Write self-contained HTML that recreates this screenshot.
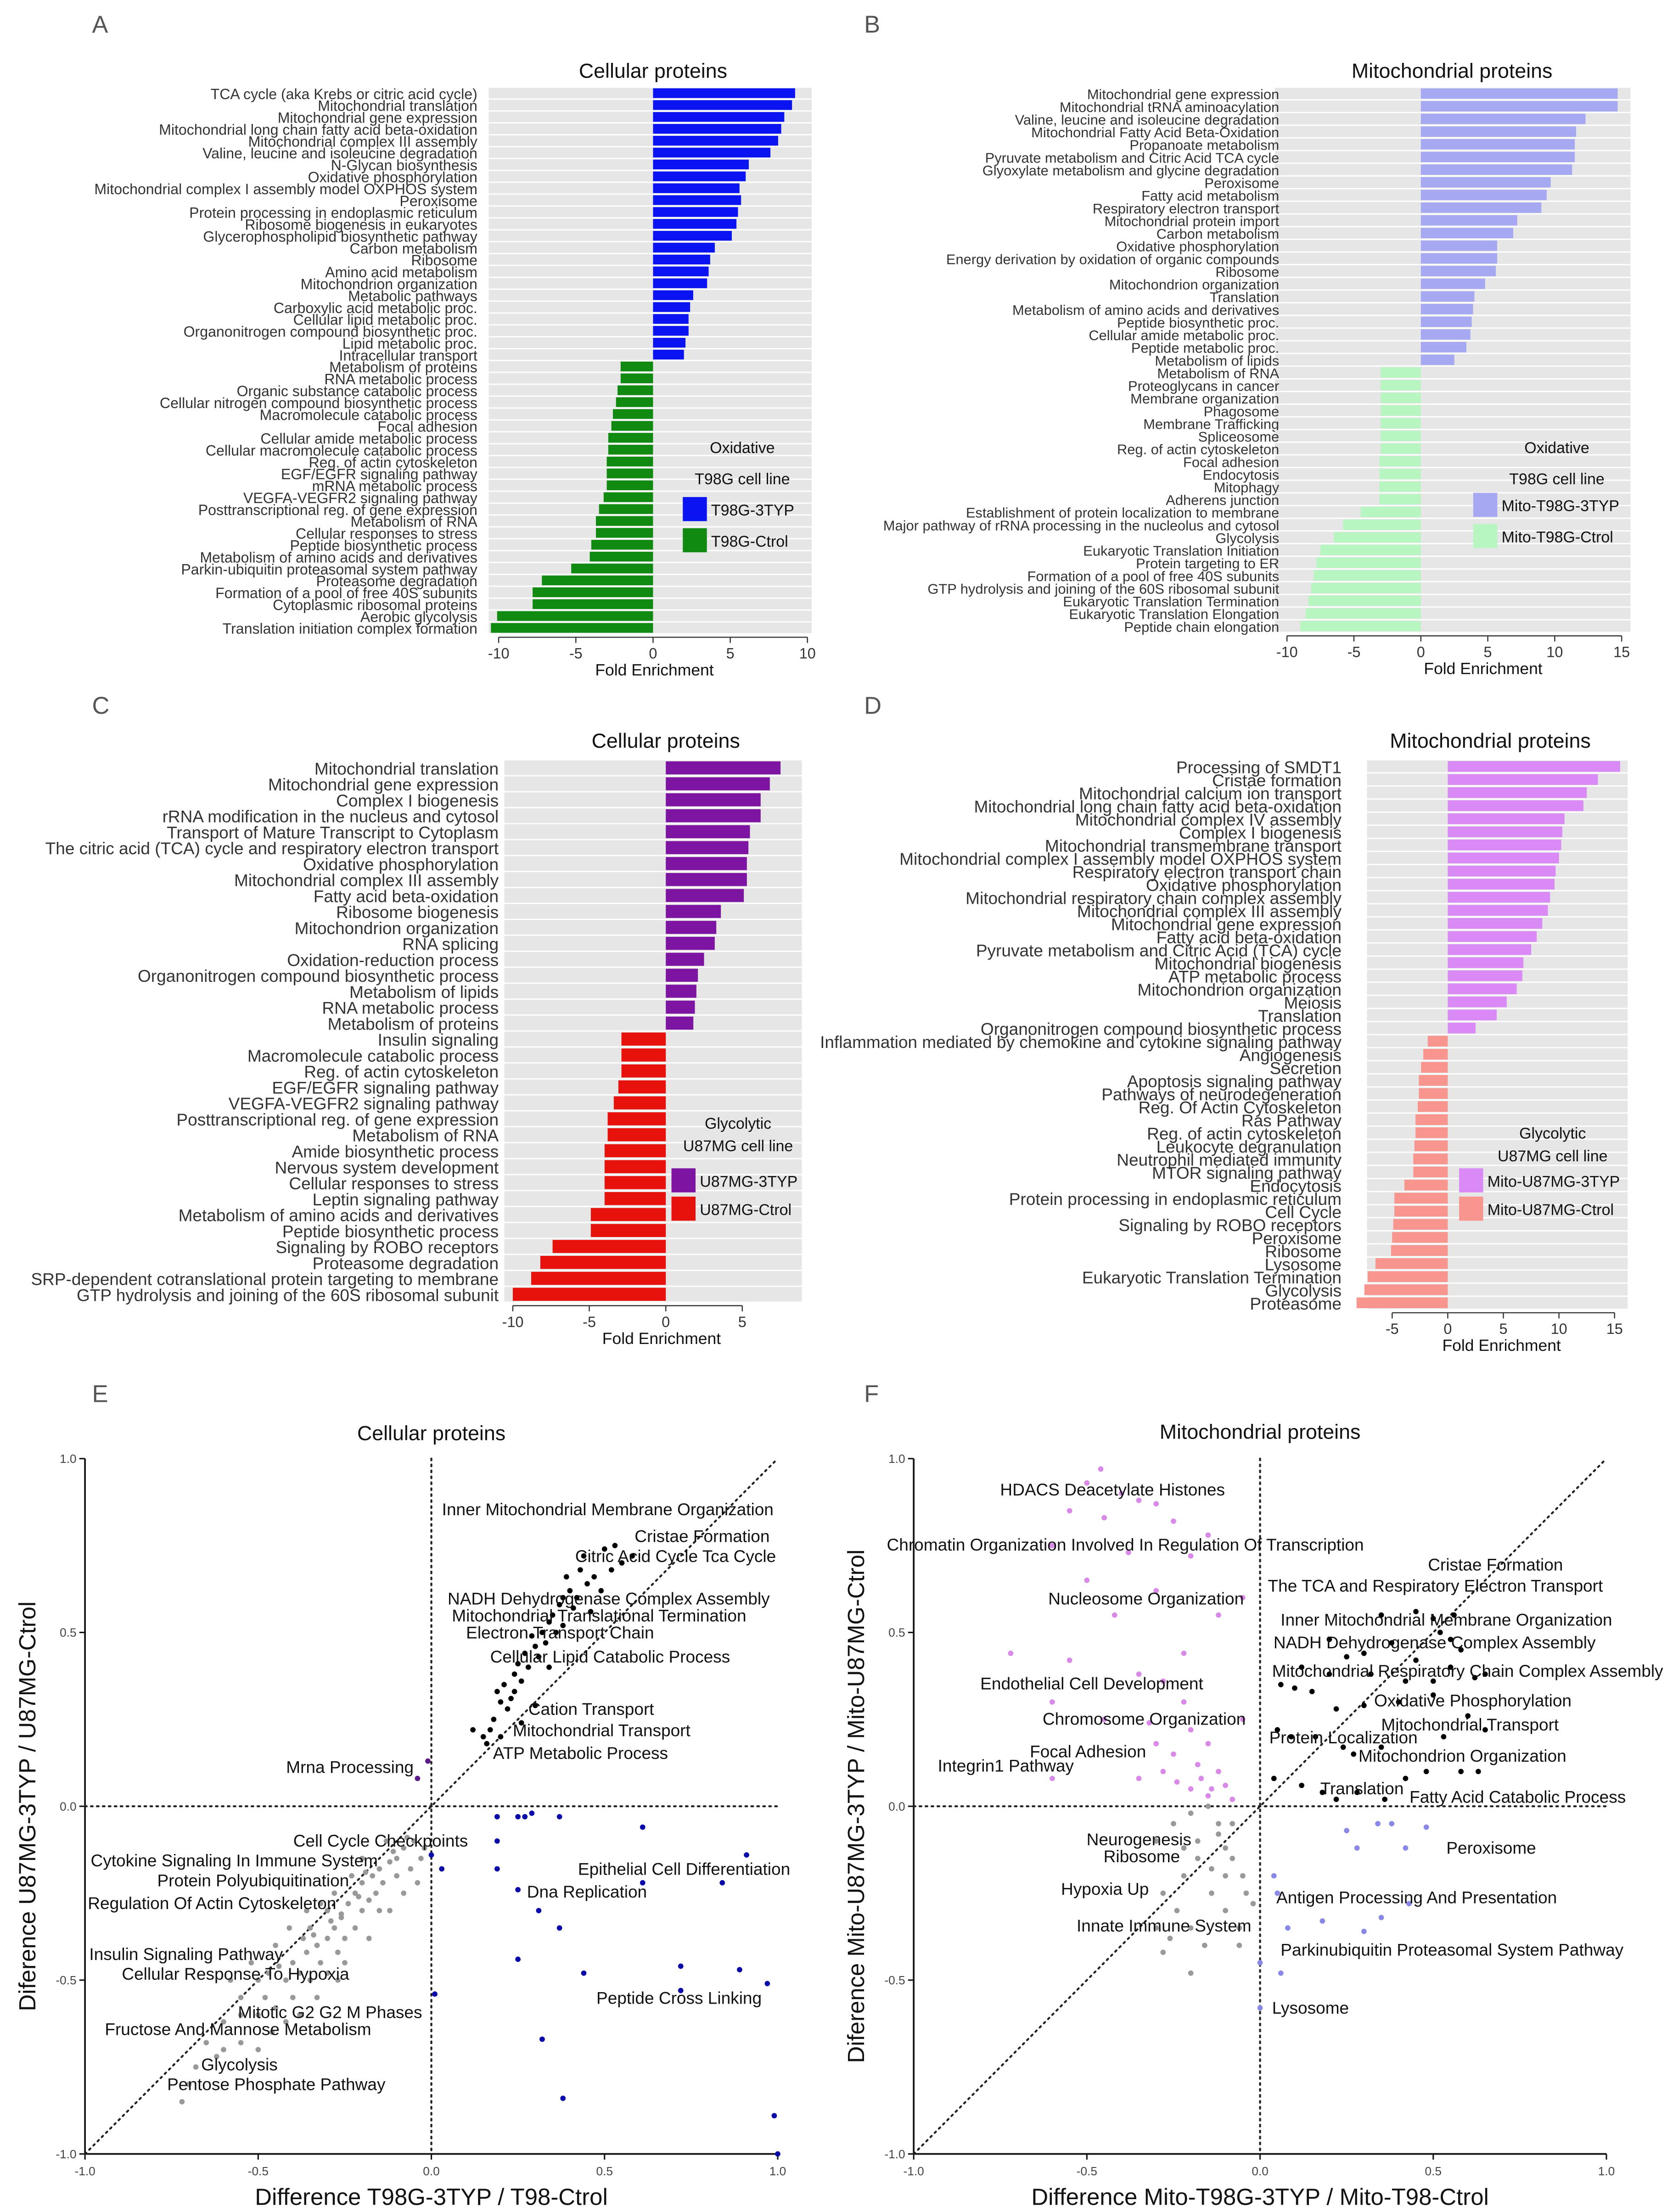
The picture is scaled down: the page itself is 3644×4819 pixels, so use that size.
<!DOCTYPE html>
<html><head><meta charset="utf-8"><style>
html,body{margin:0;padding:0;background:#fff;}
svg{display:block;}
text{font-family:"Liberation Sans",Arial,sans-serif;}
</style></head><body>
<svg id="fig" xmlns="http://www.w3.org/2000/svg" width="3644" height="4819" viewBox="0 0 1181 1562" preserveAspectRatio="none">
<rect x="0" y="0" width="1181" height="1562" fill="#fff"/>
<g font-size="17" fill="#555">
<text x="65" y="23">A</text>
<text x="610" y="23">B</text>
<text x="65" y="504">C</text>
<text x="610" y="504">D</text>
<text x="65" y="990">E</text>
<text x="610" y="990">F</text>
</g>
</svg>
<script>
// ---------- Panel A data ----------
const aCategories = ["TCA cycle (aka Krebs or citric acid cycle)","Mitochondrial translation","Mitochondrial gene expression","Mitochondrial long chain fatty acid beta-oxidation","Mitochondrial complex III assembly","Valine, leucine and isoleucine degradation","N-Glycan biosynthesis","Oxidative phosphorylation","Mitochondrial complex I assembly model OXPHOS system","Peroxisome","Protein processing in endoplasmic reticulum","Ribosome biogenesis in eukaryotes","Glycerophospholipid biosynthetic pathway","Carbon metabolism","Ribosome","Amino acid metabolism","Mitochondrion organization","Metabolic pathways","Carboxylic acid metabolic proc.","Cellular lipid metabolic proc.","Organonitrogen compound biosynthetic proc.","Lipid metabolic proc.","Intracellular transport","Metabolism of proteins","RNA metabolic process","Organic substance catabolic process","Cellular nitrogen compound biosynthetic process","Macromolecule catabolic process","Focal adhesion","Cellular amide metabolic process","Cellular macromolecule catabolic process","Reg. of actin cytoskeleton","EGF/EGFR signaling pathway","mRNA metabolic process","VEGFA-VEGFR2 signaling pathway","Posttranscriptional reg. of gene expression","Metabolism of RNA","Cellular responses to stress","Peptide biosynthetic process","Metabolism of amino acids and derivatives","Parkin-ubiquitin proteasomal system pathway","Proteasome degradation","Formation of a pool of free 40S subunits","Cytoplasmic ribosomal proteins","Aerobic glycolysis","Translation initiation complex formation"];
const aValues = [9.2,9.0,8.5,8.3,8.1,7.6,6.2,6.0,5.6,5.7,5.5,5.4,5.1,4.0,3.7,3.6,3.5,2.6,2.4,2.3,2.3,2.1,2.0,-2.1,-2.1,-2.3,-2.4,-2.6,-2.7,-2.9,-2.9,-3.0,-3.0,-3.0,-3.2,-3.5,-3.7,-3.7,-4.0,-4.1,-5.3,-7.2,-7.8,-7.8,-10.1,-10.5];
const aTicks = [-10,-5,0,5,10];
// ---------- Panel B data ----------
const bCategories = ["Mitochondrial gene expression","Mitochondrial tRNA aminoacylation","Valine, leucine and isoleucine degradation","Mitochondrial Fatty Acid Beta-Oxidation","Propanoate metabolism","Pyruvate metabolism and Citric Acid TCA cycle","Glyoxylate metabolism and glycine degradation","Peroxisome","Fatty acid metabolism","Respiratory electron transport","Mitochondrial protein import","Carbon metabolism","Oxidative phosphorylation","Energy derivation by oxidation of organic compounds","Ribosome","Mitochondrion organization","Translation","Metabolism of amino acids and derivatives","Peptide biosynthetic proc.","Cellular amide metabolic proc.","Peptide metabolic proc.","Metabolism of lipids","Metabolism of RNA","Proteoglycans in cancer","Membrane organization","Phagosome","Membrane Trafficking","Spliceosome","Reg. of actin cytoskeleton","Focal adhesion","Endocytosis","Mitophagy","Adherens junction","Establishment of protein localization to membrane","Major pathway of rRNA processing in the nucleolus and cytosol","Glycolysis","Eukaryotic Translation Initiation","Protein targeting to ER","Formation of a pool of free 40S subunits","GTP hydrolysis and joining of the 60S ribosomal subunit","Eukaryotic Translation Termination","Eukaryotic Translation Elongation","Peptide chain elongation"];
const bValues = [14.7,14.7,12.3,11.6,11.5,11.5,11.3,9.7,9.4,9.0,7.2,6.9,5.7,5.7,5.6,4.8,4.0,3.9,3.8,3.7,3.4,2.5,-3.0,-3.0,-3.0,-3.0,-3.0,-3.0,-3.0,-3.1,-3.1,-3.1,-3.1,-4.5,-5.8,-6.5,-7.5,-7.8,-8.0,-8.2,-8.4,-8.6,-9.0];
const bTicks = [-10,-5,0,5,10,15];
// ---------- Panel C data ----------
const cCategories = ["Mitochondrial translation","Mitochondrial gene expression","Complex I biogenesis","rRNA modification in the nucleus and cytosol","Transport of Mature Transcript to Cytoplasm","The citric acid (TCA) cycle and respiratory electron transport","Oxidative phosphorylation","Mitochondrial complex III assembly","Fatty acid beta-oxidation","Ribosome biogenesis","Mitochondrion organization","RNA splicing","Oxidation-reduction process","Organonitrogen compound biosynthetic process","Metabolism of lipids","RNA metabolic process","Metabolism of proteins","Insulin signaling","Macromolecule catabolic process","Reg. of actin cytoskeleton","EGF/EGFR signaling pathway","VEGFA-VEGFR2 signaling pathway","Posttranscriptional reg. of gene expression","Metabolism of RNA","Amide biosynthetic process","Nervous system development","Cellular responses to stress","Leptin signaling pathway","Metabolism of amino acids and derivatives","Peptide biosynthetic process","Signaling by ROBO receptors","Proteasome degradation","SRP-dependent cotranslational protein targeting to membrane","GTP hydrolysis and joining of the 60S ribosomal subunit"];
const cValues = [7.5,6.8,6.2,6.2,5.5,5.4,5.3,5.3,5.1,3.6,3.3,3.2,2.5,2.1,2.0,1.9,1.8,-2.9,-2.9,-2.9,-3.1,-3.4,-3.8,-3.8,-4.0,-4.0,-4.0,-4.0,-4.9,-4.9,-7.4,-8.2,-8.8,-10.0];
const cTicks = [-10,-5,0,5];
// ---------- Panel D data ----------
const dCategories = ["Processing of SMDT1","Cristae formation","Mitochondrial calcium ion transport","Mitochondrial long chain fatty acid beta-oxidation","Mitochondrial complex IV assembly","Complex I biogenesis","Mitochondrial transmembrane transport","Mitochondrial complex I assembly model OXPHOS system","Respiratory electron transport chain","Oxidative phosphorylation","Mitochondrial respiratory chain complex assembly","Mitochondrial complex III assembly","Mitochondrial gene expression","Fatty acid beta-oxidation","Pyruvate metabolism and Citric Acid (TCA) cycle","Mitochondrial biogenesis","ATP metabolic process","Mitochondrion organization","Meiosis","Translation","Organonitrogen compound biosynthetic process","Inflammation mediated by chemokine and cytokine signaling pathway","Angiogenesis","Secretion","Apoptosis signaling pathway","Pathways of neurodegeneration","Reg. Of Actin Cytoskeleton","Ras Pathway","Reg. of actin cytoskeleton","Leukocyte degranulation","Neutrophil mediated immunity","MTOR signaling pathway","Endocytosis","Protein processing in endoplasmic reticulum","Cell Cycle","Signaling by ROBO receptors","Peroxisome","Ribosome","Lysosome","Eukaryotic Translation Termination","Glycolysis","Proteasome"];
const dValues = [15.5,13.5,12.5,12.2,10.5,10.3,10.2,10.0,9.7,9.6,9.2,9.0,8.5,8.0,7.5,6.8,6.7,6.2,5.3,4.4,2.5,-1.8,-2.2,-2.4,-2.6,-2.6,-2.7,-2.9,-2.9,-3.0,-3.1,-3.1,-3.9,-4.8,-4.8,-4.9,-5.0,-5.1,-6.5,-7.2,-7.5,-8.2];
const dTicks = [-5,0,5,10,15];

// ---------- Panel E data (data units) ----------
const eGrayX = [-0.72,-0.7,-0.68,-0.62,-0.6,-0.55,-0.5,-0.48,-0.45,-0.42,-0.4,-0.4,-0.38,-0.36,-0.35,-0.33,-0.32,-0.3,-0.3,-0.28,-0.27,-0.26,-0.25,-0.24,-0.22,-0.22,-0.2,-0.2,-0.18,-0.17,-0.16,-0.15,-0.14,-0.12,-0.12,-0.1,-0.1,-0.08,-0.06,-0.05,-0.04,-0.03,-0.45,-0.5,-0.55,-0.35,-0.3,-0.25,-0.42,-0.38,-0.6,-0.65,-0.52,-0.47,-0.33,-0.28,-0.18,-0.15,-0.08,-0.23,-0.41,-0.36,-0.55,-0.46,-0.58,-0.2,-0.13,-0.27,-0.32,-0.5,-0.37,-0.29,-0.21,-0.11,-0.44,-0.34,-0.26,-0.19,-0.07,-0.02];
const eGrayY = [-0.85,-0.8,-0.75,-0.72,-0.7,-0.68,-0.6,-0.55,-0.58,-0.5,-0.55,-0.45,-0.48,-0.42,-0.5,-0.4,-0.45,-0.38,-0.48,-0.35,-0.42,-0.32,-0.38,-0.28,-0.35,-0.25,-0.3,-0.22,-0.27,-0.2,-0.25,-0.18,-0.22,-0.16,-0.3,-0.2,-0.15,-0.12,-0.18,-0.1,-0.22,-0.15,-0.4,-0.5,-0.55,-0.35,-0.3,-0.45,-0.62,-0.6,-0.62,-0.68,-0.45,-0.48,-0.55,-0.25,-0.38,-0.3,-0.25,-0.2,-0.35,-0.3,-0.6,-0.65,-0.5,-0.15,-0.1,-0.5,-0.28,-0.7,-0.38,-0.33,-0.26,-0.13,-0.46,-0.37,-0.31,-0.19,-0.09,-0.12];
const eBlackX = [0.15,0.17,0.18,0.2,0.19,0.22,0.21,0.24,0.23,0.25,0.26,0.27,0.28,0.3,0.29,0.31,0.32,0.33,0.34,0.35,0.36,0.37,0.38,0.4,0.39,0.42,0.43,0.45,0.44,0.47,0.5,0.52,0.55,0.58,0.26,0.3,0.34,0.38,0.41,0.46,0.49,0.53,0.12,0.16,0.2,0.24];
const eBlackY = [0.2,0.22,0.25,0.3,0.33,0.28,0.35,0.38,0.31,0.41,0.36,0.44,0.4,0.46,0.49,0.43,0.5,0.47,0.53,0.55,0.5,0.58,0.6,0.62,0.66,0.6,0.68,0.64,0.72,0.66,0.74,0.68,0.7,0.72,0.24,0.29,0.4,0.52,0.57,0.56,0.62,0.75,0.22,0.18,0.2,0.33];
const eBlueX = [0.0,0.03,0.19,0.25,0.27,0.29,0.37,0.19,0.19,0.25,0.31,0.37,0.61,0.61,0.84,0.91,0.25,0.44,0.72,0.89,0.97,0.72,0.01,0.32,0.38,0.99,1.0];
const eBlueY = [-0.14,-0.18,-0.03,-0.03,-0.03,-0.02,-0.03,-0.1,-0.18,-0.24,-0.3,-0.35,-0.06,-0.22,-0.22,-0.14,-0.44,-0.48,-0.46,-0.47,-0.51,-0.53,-0.54,-0.67,-0.84,-0.89,-1.0];
const ePurpleX = [-0.01,-0.04];
const ePurpleY = [0.13,0.08];
const axisTicks = [-1.0,-0.5,0.0,0.5,1.0];
const axisTickLabels = ["-1.0","-0.5","0.0","0.5","1.0"];

// ---------- Panel F data ----------
const fPinkX = [-0.46,-0.5,-0.4,-0.35,-0.3,-0.55,-0.45,-0.25,-0.15,-0.6,-0.38,-0.2,-0.05,-0.5,-0.3,-0.12,-0.42,-0.72,-0.55,-0.35,-0.28,-0.22,-0.6,-0.45,-0.32,-0.2,-0.15,-0.25,-0.18,-0.12,-0.28,-0.35,-0.1,-0.2,-0.15,-0.08,-0.6,-0.3,-0.05,-0.22,-0.17,-0.14,-0.24];
const fPinkY = [0.97,0.93,0.9,0.88,0.87,0.85,0.83,0.82,0.78,0.75,0.73,0.72,0.6,0.65,0.62,0.55,0.55,0.44,0.42,0.38,0.36,0.44,0.3,0.25,0.24,0.22,0.18,0.15,0.12,0.1,0.1,0.08,0.06,0.05,0.03,0.02,0.08,0.18,0.25,0.3,0.08,0.05,0.07];
const fGrayX = [-0.3,-0.25,-0.2,-0.15,-0.12,-0.1,-0.08,-0.05,-0.18,-0.22,-0.28,-0.14,-0.1,-0.06,-0.2,-0.16,-0.24,-0.3,-0.26,-0.12,-0.04,-0.02,-0.08,-0.18,-0.22,-0.1,-0.14,-0.28,-0.2,-0.06];
const fGrayY = [-0.1,-0.05,-0.02,0.0,-0.08,-0.12,-0.15,-0.2,-0.1,-0.2,-0.25,-0.25,-0.3,-0.35,-0.35,-0.4,-0.3,-0.35,-0.38,-0.05,-0.25,-0.28,-0.05,-0.15,-0.12,-0.2,-0.18,-0.42,-0.48,-0.4];
const fBlackX = [0.35,0.45,0.5,0.52,0.56,0.58,0.2,0.3,0.38,0.45,0.55,0.12,0.2,0.25,0.32,0.42,0.5,0.55,0.62,0.65,0.06,0.1,0.15,0.22,0.3,0.4,0.5,0.6,0.65,0.05,0.09,0.16,0.24,0.27,0.35,0.42,0.53,0.58,0.04,0.12,0.18,0.22,0.28,0.36,0.48,0.63];
const fBlackY = [0.55,0.56,0.54,0.5,0.55,0.45,0.48,0.44,0.47,0.42,0.48,0.4,0.38,0.43,0.38,0.36,0.36,0.4,0.37,0.38,0.35,0.34,0.33,0.28,0.29,0.3,0.32,0.26,0.22,0.22,0.2,0.2,0.17,0.15,0.17,0.08,0.2,0.1,0.08,0.06,0.04,0.02,0.04,0.02,0.1,0.1];
const fPurpleX = [0.25,0.28,0.34,0.38,0.42,0.05,0.08,0.18,0.3,0.35,0.43,0.0,0.06,0.0,0.04,0.48];
const fPurpleY = [-0.07,-0.12,-0.05,-0.05,-0.12,-0.25,-0.35,-0.33,-0.36,-0.32,-0.28,-0.45,-0.48,-0.58,-0.2,-0.06];

const NS = "http://www.w3.org/2000/svg";
const svg = document.getElementById('fig');
function mk(tag, attrs, parent){ const e=document.createElementNS(NS,tag); for(const k in attrs) e.setAttribute(k,attrs[k]); (parent||svg).appendChild(e); return e; }
function txt(s, attrs, parent){ const e=mk('text',attrs,parent); e.textContent=s; return e; }

function barChart(cfg, cats, vals, ticks){
  const g = mk('g',{});
  
  
  const n = cats.length, rowH = (cfg.y1-cfg.y0)/n;
  const sx = v => cfg.zx + v*cfg.ppu;
  for(let i=0;i<n;i++){
    const y = cfg.y0 + i*rowH;
    const bg = mk('rect',{x:cfg.bx0,y:y,width:cfg.bx1-cfg.bx0,height:rowH-0.9,fill:'#e6e6e6'},g);
    
    
    const v = vals[i];
    const bh = rowH*0.82;
    const bar = mk('rect',{x:Math.min(sx(0),sx(v)),y:y+(rowH-bh)/2-0.4,width:Math.abs(sx(v)-sx(0)),height:bh,fill:v>=0?cfg.pos:cfg.neg},g);
    
    
    const lab = txt(cats[i],{x:cfg.lx,y:y+rowH/2+cfg.fs*0.36,'font-size':cfg.fs,'text-anchor':'end',fill:cfg.lc},g);
    
    
  }
  const axY = cfg.y1+2;
  mk('line',{x1:sx(ticks[0]),x2:sx(ticks[ticks.length-1]),y1:axY,y2:axY,stroke:'#333','stroke-width':0.8},g);
  ticks.forEach(t=>{
    mk('line',{x1:sx(t),x2:sx(t),y1:axY,y2:axY+4,stroke:'#333','stroke-width':0.8},g);
    const tl = txt(String(t),{x:sx(t),y:axY+15,'font-size':10.5,'text-anchor':'middle',fill:'#333'},g);
    
    
  });
  const at = txt('Fold Enrichment',{x:cfg.axx,y:axY+27,'font-size':11.5,'text-anchor':'middle',fill:'#111'},g);
  
  
  const tt = txt(cfg.title,{x:cfg.tx,y:cfg.ty,'font-size':14.5,'text-anchor':'middle',fill:'#111'},g);
  
  
  const l1 = txt(cfg.leg1,{x:cfg.legX,y:cfg.legY,'font-size':11,'text-anchor':'middle',fill:'#111'},g);
  
  
  const l2 = txt(cfg.leg2,{x:cfg.legX,y:cfg.legY+cfg.legGap,'font-size':11,'text-anchor':'middle',fill:'#111'},g);
  
  
  [[cfg.pos,cfg.s1],[cfg.neg,cfg.s2]].forEach((p,k)=>{
    const yy = cfg.sqY + k*cfg.sqGap;
    const sq = mk('rect',{x:cfg.sqX,y:yy,width:17,height:17,fill:p[0]},g);
    
    
    const lt = txt(p[1],{x:cfg.sqX+20,y:yy+13,'font-size':11,fill:'#111'},g);
    
    
  });
}

barChart({name:'panel-a-bar-chart',y0:62,y1:448,zx:461,ppu:10.9,bx0:345,bx1:573,lx:337,fs:10.4,lc:'#333',pos:'#0a14f0',neg:'#118a11',
  title:'Cellular proteins',tx:461,ty:55,axx:462,leg1:'Oxidative',leg2:'T98G cell line',legX:524,legY:320,legGap:22,sqX:482,sqY:351,sqGap:22,s1:'T98G-3TYP',s2:'T98G-Ctrol'},aCategories,aValues,aTicks);
barChart({name:'panel-b-bar-chart',y0:62,y1:447,zx:1003,ppu:9.45,bx0:900,bx1:1151,lx:903,fs:10.0,lc:'#333',pos:'#a6a8f2',neg:'#b7f5c1',
  title:'Mitochondrial proteins',tx:1025,ty:55,axx:1047,leg1:'Oxidative',leg2:'T98G cell line',legX:1099,legY:320,legGap:22,sqX:1040,sqY:348,sqGap:22,s1:'Mito-T98G-3TYP',s2:'Mito-T98G-Ctrol'},bCategories,bValues,bTicks);
barChart({name:'panel-c-bar-chart',y0:537,y1:920,zx:470,ppu:10.8,bx0:356,bx1:566,lx:352,fs:12.0,lc:'#333',pos:'#7e14a2',neg:'#e8120c',
  title:'Cellular proteins',tx:470,ty:528,axx:467,leg1:'Glycolytic',leg2:'U87MG cell line',legX:521,legY:797,legGap:16,sqX:474,sqY:825,sqGap:20,s1:'U87MG-3TYP',s2:'U87MG-Ctrol'},cCategories,cValues,cTicks);
barChart({name:'panel-d-bar-chart',y0:537,y1:925,zx:1022,ppu:7.85,bx0:965,bx1:1149,lx:947,fs:12.0,lc:'#333',pos:'#d98af5',neg:'#f8958e',
  title:'Mitochondrial proteins',tx:1052,ty:528,axx:1060,leg1:'Glycolytic',leg2:'U87MG cell line',legX:1096,legY:804,legGap:16,sqX:1030,sqY:825,sqGap:20,s1:'Mito-U87MG-3TYP',s2:'Mito-U87MG-Ctrol'},dCategories,dValues,dTicks);

function scatter(cfg, series, labels){
  const g = mk('g',{});
  
  
  const sx = v => cfg.x0 + (v+1)/2*(cfg.x1-cfg.x0);
  const sy = v => cfg.y1 - (v+1)/2*(cfg.y1-cfg.y0);
  mk('line',{x1:sx(-1),x2:sx(-1),y1:sy(1),y2:sy(-1),stroke:'#111','stroke-width':1.2},g);
  mk('line',{x1:sx(-1),x2:sx(1),y1:sy(-1),y2:sy(-1),stroke:'#111','stroke-width':1.2},g);
  axisTicks.forEach((t,i)=>{
    mk('line',{x1:sx(-1)-4,x2:sx(-1),y1:sy(t),y2:sy(t),stroke:'#111','stroke-width':1},g);
    mk('line',{x1:sx(t),x2:sx(t),y1:sy(-1),y2:sy(-1)+4,stroke:'#111','stroke-width':1},g);
    const yl = txt(axisTickLabels[i],{x:sx(-1)-6,y:sy(t)+3,'font-size':8.5,'text-anchor':'end',fill:'#444'},g);
    
    
    const xl = txt(axisTickLabels[i],{x:sx(t),y:sy(-1)+15,'font-size':8.5,'text-anchor':'middle',fill:'#444'},g);
    
    
  });
  const dash = {stroke:'#222','stroke-width':1.4,'stroke-dasharray':'1.2 3','stroke-linecap':'round'};
  const r1 = mk('line',Object.assign({x1:sx(-1),x2:sx(1),y1:sy(0),y2:sy(0)},dash),g);
  
  
  const r2 = mk('line',Object.assign({x1:sx(0),x2:sx(0),y1:sy(1),y2:sy(-1)},dash),g);
  
  
  const r3 = mk('line',Object.assign({x1:sx(-1),x2:sx(1),y1:sy(-1),y2:sy(1)},dash),g);
  
  
  series.forEach(s=>{
    for(let i=0;i<s.xs.length;i++){
      const c = mk('circle',{cx:sx(s.xs[i]),cy:sy(s.ys[i]),r:1.9,fill:s.color},g);
      
      
    }
  });
  labels.forEach(l=>{
    const t = txt(l[0],{x:l[1],y:l[2],'font-size':cfg.lfs,fill:'#111'},g);
    
    
  });
  const tt = txt(cfg.title,{x:sx(0),y:cfg.ty,'font-size':14.5,'text-anchor':'middle',fill:'#111'},g);
  
  
  const xt = txt(cfg.xtitle,{x:sx(0),y:1557,'font-size':16.5,'text-anchor':'middle',fill:'#111'},g);
  
  
  const yt = txt(cfg.ytitle,{x:0,y:0,'font-size':16.5,'text-anchor':'middle',fill:'#111',transform:'translate('+cfg.ytx+','+sy(0)+') rotate(-90)'},g);
  
  
}

scatter({name:'panel-e-scatter',x0:60,x1:549,y0:1030,y1:1521,ty:1017,lfs:12,title:'Cellular proteins',
  xtitle:'Difference T98G-3TYP / T98-Ctrol',ytitle:'Diference U87MG-3TYP / U87MG-Ctrol',ytx:25},
  [{xs:eGrayX,ys:eGrayY,color:'#999',name:'gray-point'},{xs:eBlackX,ys:eBlackY,color:'#000',name:'black-point'},{xs:eBlueX,ys:eBlueY,color:'#0a0aa8',name:'blue-point'},{xs:ePurpleX,ys:ePurpleY,color:'#5a1a8a',name:'purple-point'}],
  [["Inner Mitochondrial Membrane Organization",312,1070],["Cristae Formation",448,1089],["Citric Acid Cycle Tca Cycle",406,1103],["NADH Dehydrogenase Complex Assembly",316,1133],["Mitochondrial Translational Termination",319,1145],["Electron Transport Chain",329,1157],["Cellular Lipid Catabolic Process",346,1174],["Cation Transport",373,1211],["Mitochondrial Transport",362,1226],["ATP Metabolic Process",348,1242],["Mrna Processing",202,1252],["Cell Cycle Checkpoints",207,1304],["Cytokine Signaling In Immune System",64,1318],["Protein Polyubiquitination",111,1332],["Regulation Of Actin Cytoskeleton",62,1348],["Epithelial Cell Differentiation",408,1324],["Dna Replication",372,1340],["Insulin Signaling Pathway",63,1384],["Cellular Response To Hypoxia",86,1398],["Peptide Cross Linking",421,1415],["Mitotic G2 G2 M Phases",168,1425],["Fructose And Mannose Metabolism",74,1437],["Glycolysis",142,1462],["Pentose Phosphate Pathway",118,1476]]);

scatter({name:'panel-f-scatter',x0:645,x1:1134,y0:1030,y1:1521,ty:1016,lfs:12,title:'Mitochondrial proteins',
  xtitle:'Difference Mito-T98G-3TYP / Mito-T98-Ctrol',ytitle:'Diference Mito-U87MG-3TYP / Mito-U87MG-Ctrol',ytx:610},
  [{xs:fPinkX,ys:fPinkY,color:'#d98ae8',name:'pink-point'},{xs:fGrayX,ys:fGrayY,color:'#999',name:'gray-point'},{xs:fBlackX,ys:fBlackY,color:'#000',name:'black-point'},{xs:fPurpleX,ys:fPurpleY,color:'#8a88e6',name:'purple-point'}],
  [["HDACS Deacetylate Histones",706,1056],["Chromatin Organization Involved In Regulation Of Transcription",626,1095],["Nucleosome Organization",740,1133],["Cristae Formation",1008,1109],["The TCA and Respiratory Electron Transport",895,1124],["Inner Mitochondrial Membrane Organization",904,1148],["NADH Dehydrogenase Complex Assembly",899,1164],["Mitochondrial Respiratory Chain Complex Assembly",898,1184],["Endothelial Cell Development",692,1193],["Oxidative Phosphorylation",970,1205],["Chromosome Organization",736,1218],["Mitochondrial Transport",975,1222],["Protein Localization",896,1231],["Focal Adhesion",727,1241],["Mitochondrion Organization",959,1244],["Integrin1 Pathway",662,1251],["Translation",932,1267],["Fatty Acid Catabolic Process",995,1273],["Neurogenesis",767,1303],["Ribosome",779,1315],["Peroxisome",1021,1309],["Hypoxia Up",749,1338],["Antigen Processing And Presentation",901,1344],["Innate Immune System",760,1364],["Parkinubiquitin Proteasomal System Pathway",904,1381],["Lysosome",898,1422]]);
</script>
</body></html>
